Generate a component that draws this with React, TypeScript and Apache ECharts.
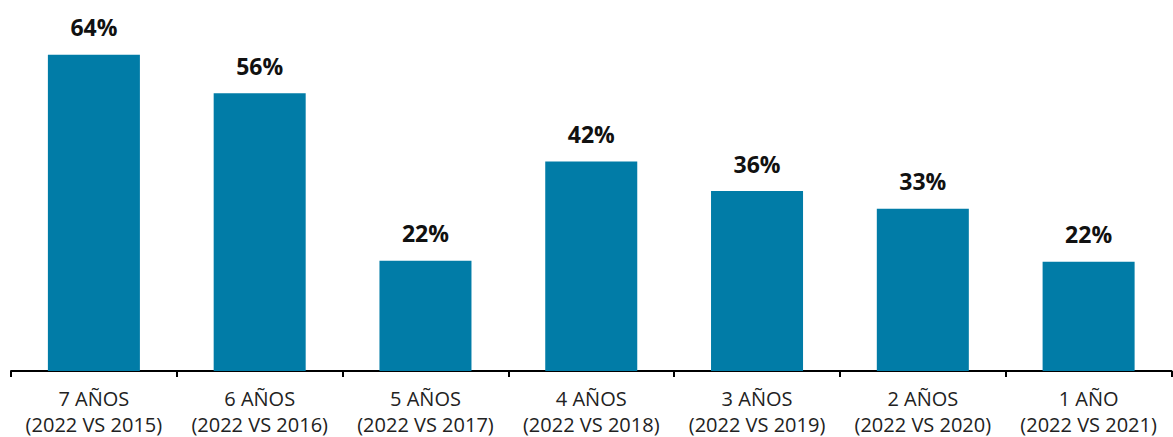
import React, { useEffect, useRef } from "react";
import * as echarts from "echarts";

const categories = [
  "7 AÑOS\n(2022 VS 2015)",
  "6 AÑOS\n(2022 VS 2016)",
  "5 AÑOS\n(2022 VS 2017)",
  "4 AÑOS\n(2022 VS 2018)",
  "3 AÑOS\n(2022 VS 2019)",
  "2 AÑOS\n(2022 VS 2020)",
  "1 AÑO\n(2022 VS 2021)",
];
const values = [64.0, 56.2, 22.3, 42.4, 36.4, 32.8, 22.1];

export default function App() {
  const ref = useRef<HTMLDivElement>(null);
  useEffect(() => {
    if (!ref.current) return;
    const chart = echarts.init(ref.current, null, { renderer: "svg" });
    chart.setOption({
      animation: false,
      backgroundColor: "#ffffff",
      grid: { left: 11, right: 1.5, top: 25, bottom: 65, containLabel: false },
      xAxis: {
        type: "category",
        data: categories,
        boundaryGap: true,
        axisLine: { show: true, lineStyle: { color: "#000", width: 2 } },
        axisTick: { show: true, length: 6, lineStyle: { color: "#000", width: 2 } },
        axisLabel: {
          color: "#222",
          fontFamily: "'Open Sans', sans-serif",
          fontSize: 20,
          lineHeight: 26,
          margin: 14,
          interval: 0,
        },
      },
      yAxis: {
        type: "value",
        min: 0,
        max: 70,
        show: false,
        splitLine: { show: false },
      },
      series: [
        {
          type: "bar",
          data: values,
          barWidth: "55.5%",
          itemStyle: { color: "#017CA7" },
          label: {
            show: true,
            position: "top",
            distance: 16,
            color: "#111",
            fontFamily: "'Open Sans', sans-serif",
            fontWeight: "bold",
            fontSize: 23,
            formatter: (p: any) => Math.round(p.value) + "%",
          },
        },
      ],
    });
    return () => chart.dispose();
  }, []);
  return (
    <div
      ref={ref}
      style={{ position: "fixed", left: 0, top: 0, width: 1173, height: 437 }}
    />
  );
}
